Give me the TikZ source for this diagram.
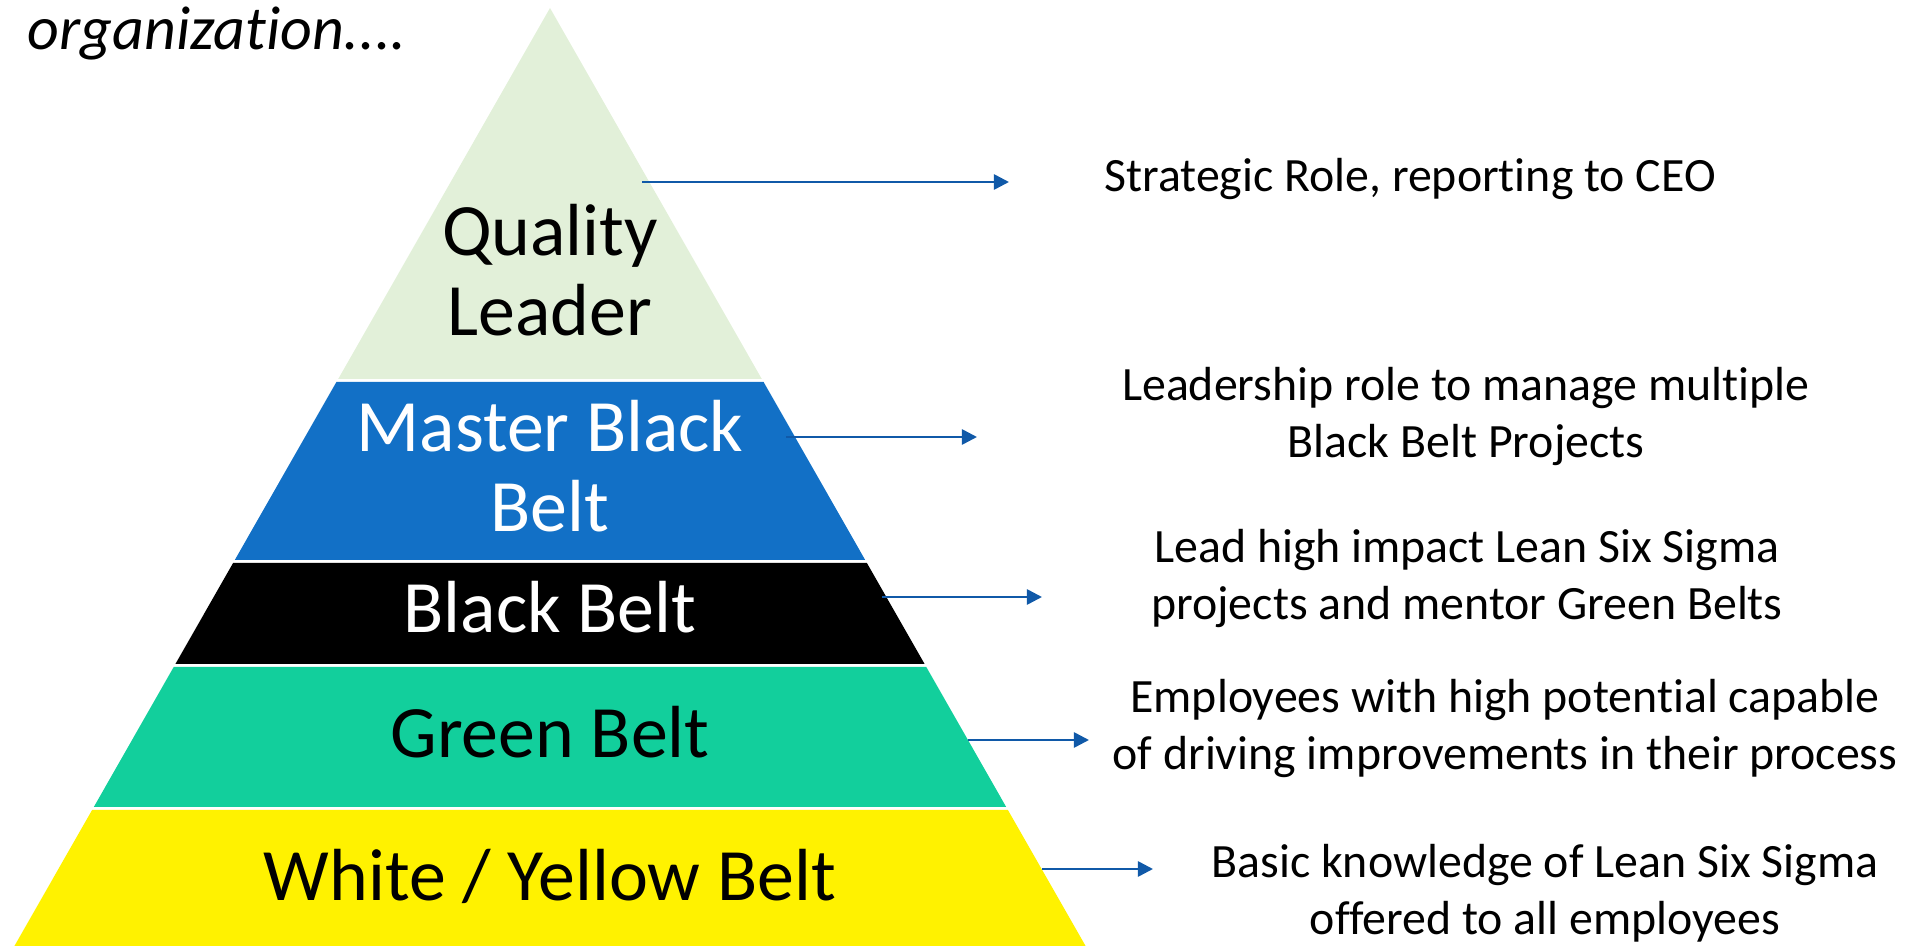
\documentclass[tikz,border=0pt]{standalone}
\usepackage{fontspec}
\setmainfont{Carlito}[Ligatures=NoCommon]
\usetikzlibrary{arrows.meta}
\definecolor{qlgreen}{RGB}{226,240,217}
\definecolor{mbbblue}{RGB}{18,112,198}
\definecolor{gbgreen}{RGB}{18,207,156}
\definecolor{linkblue}{RGB}{16,89,168}
\begin{document}
\begin{tikzpicture}[x=0.01cm,y=-0.01cm,
    beltlabel/.style={anchor=base,align=center,inner sep=0pt,font=\fontsize{21}{22.8}\selectfont},
    roletext/.style={anchor=base,align=center,inner sep=0pt,font=\fontsize{13.6}{16.4}\selectfont},
    link/.style={draw=linkblue,line width=0.75pt,-{Triangle[length=4.3pt,width=4.3pt]}}]
                        \useasboundingbox (0,0) rectangle (1917,946);

                        % Heading
                        \node [anchor=base west,inner sep=0pt,font=\fontsize{17.6}{20}\selectfont\itshape] (heading) at (27,50) {organization....};%

                        % Drawing band Quality Leader
                        \fill [qlgreen] (550.0,8.0) -- (761.8,379.0) -- (338.2,379.0) -- cycle;%
                        \node [beltlabel] (ql) at (550,336) {Quality\\Leader};%

                        % Drawing band Master Black Belt
                        \fill [mbbblue] (336.4,382.0) -- (763.6,382.0) -- (865.2,560.0) -- (234.8,560.0) -- cycle;%
                        \node [beltlabel,text=white] (mbb) at (550,532) {Master Black\\Belt};%

                        % Drawing band Black Belt
                        \fill [black] (233.1,563.0) -- (866.9,563.0) -- (924.6,664.0) -- (175.4,664.0) -- cycle;%
                        \node [beltlabel,text=white] (bb) at (550,633) {Black Belt};%

                        % Drawing band Green Belt
                        \fill [gbgreen] (173.7,667.0) -- (926.3,667.0) -- (1006.2,807.0) -- (93.8,807.0) -- cycle;%
                        \node [beltlabel] (gb) at (550,758) {Green Belt};%

                        % Drawing band White / Yellow Belt
                        \fill [yellow] (92.1,810.0) -- (1007.9,810.0) -- (1085.6,946.0) -- (14.4,946.0) -- cycle;%
                        \node [beltlabel] (wyb) at (550,900) {White / Yellow Belt};%

                        % Role texts (anchored on last line)
                        \node [roletext] (qlrole) at (1410,192) {Strategic Role, reporting to CEO};%
                        \node [roletext] (mbbrole) at (1466,458) {Leadership role to manage multiple\\Black Belt Projects};%
                        \node [roletext] (bbrole) at (1467,620) {Lead high impact Lean Six Sigma\\projects and mentor Green Belts};%
                        \node [roletext] (gbrole) at (1505,770) {Employees with high potential capable\\of driving improvements in their process};%
                        \node [roletext] (wybrole) at (1545,935) {Basic knowledge of Lean Six Sigma\\offered to all employees};%

                        % Arrow ends
                        \coordinate (qlfrom) at (642,182);   \coordinate (qlto) at (1009,182);%
                        \coordinate (mbbfrom) at (786,437);  \coordinate (mbbto) at (977,437);%
                        \coordinate (bbfrom) at (882,597);   \coordinate (bbto) at (1042,597);%
                        \coordinate (gbfrom) at (968,740);   \coordinate (gbto) at (1089,740);%
                        \coordinate (wybfrom) at (1042,869); \coordinate (wybto) at (1153,869);%

                        % Drawing arrows
                        \draw [link] (qlfrom) -- (qlto);%
                        \draw [link] (mbbfrom) -- (mbbto);%
                        \draw [link] (bbfrom) -- (bbto);%
                        \draw [link] (gbfrom) -- (gbto);%
                        \draw [link] (wybfrom) -- (wybto);%
\end{tikzpicture}
\end{document}
